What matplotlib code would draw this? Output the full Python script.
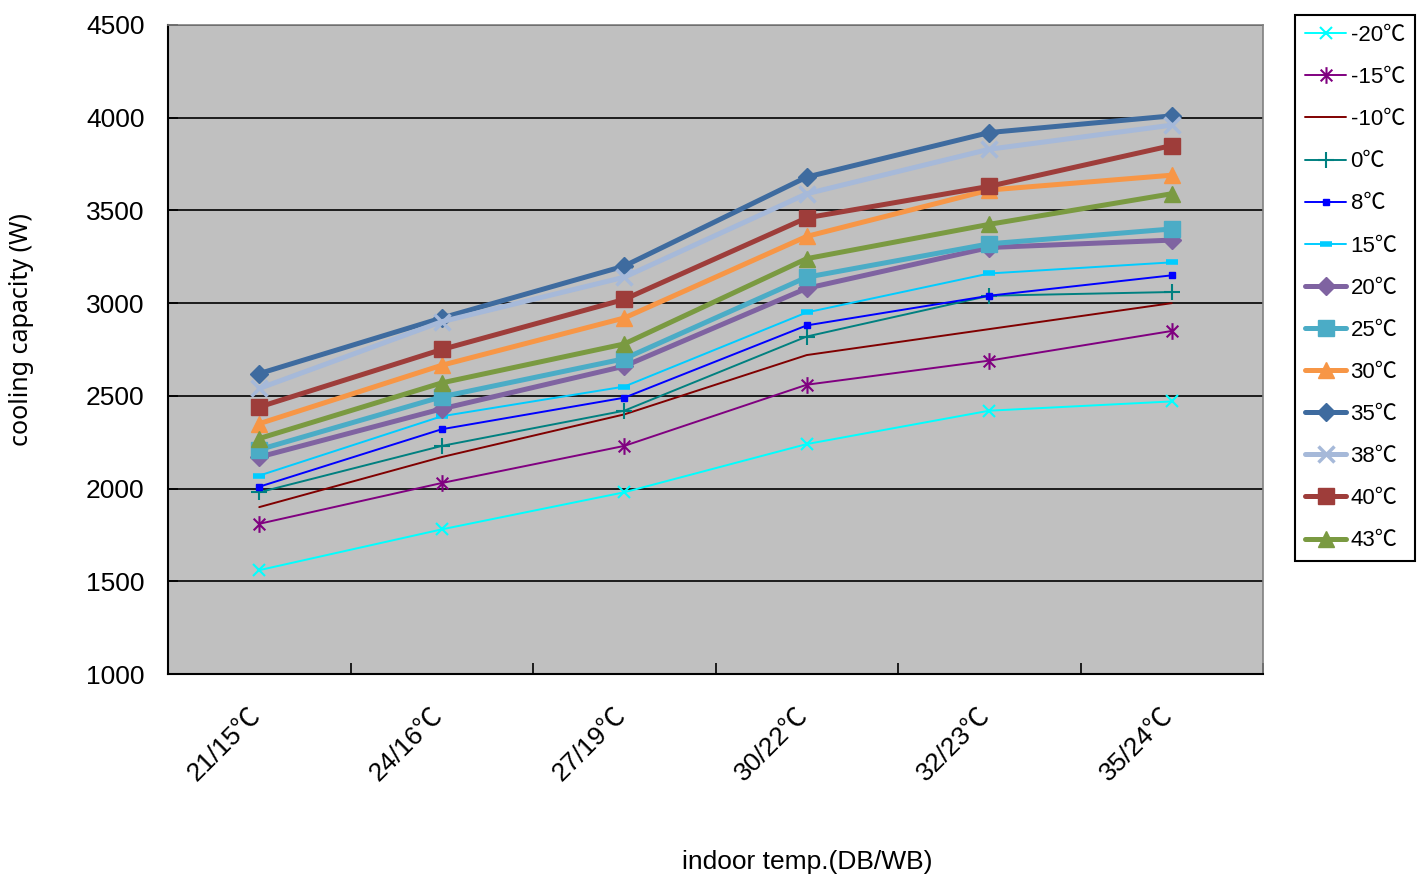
import matplotlib
matplotlib.use('Agg')
import matplotlib.pyplot as plt
import matplotlib.transforms as mtransforms
from matplotlib.path import Path
import numpy as np

# outdoor temperatures (legend) and indoor conditions (x axis)
categories = ['21/15℃', '24/16℃', '27/19℃', '30/22℃', '32/23℃', '35/24℃']
labels = ['-20℃', '-15℃', '-10℃', '0℃', '8℃', '15℃', '20℃', '25℃',
          '30℃', '35℃', '38℃', '40℃', '43℃']

cap_m20 = [1560, 1780, 1980, 2240, 2420, 2470]
cap_m15 = [1810, 2030, 2230, 2560, 2690, 2850]
cap_m10 = [1900, 2170, 2400, 2720, 2860, 3000]
cap_0 = [1980, 2230, 2420, 2820, 3040, 3060]
cap_8 = [2010, 2320, 2490, 2880, 3040, 3150]
cap_15 = [2070, 2390, 2550, 2950, 3160, 3220]
cap_20 = [2170, 2430, 2660, 3080, 3300, 3340]
cap_25 = [2210, 2495, 2700, 3140, 3320, 3400]
cap_30 = [2350, 2665, 2920, 3360, 3610, 3690]
cap_35 = [2620, 2920, 3200, 3680, 3920, 4010]
cap_38 = [2540, 2900, 3140, 3590, 3830, 3960]
cap_40 = [2440, 2750, 3020, 3460, 3630, 3850]
cap_43 = [2270, 2570, 2780, 3240, 3425, 3590]

series = [cap_m20, cap_m15, cap_m10, cap_0, cap_8, cap_15, cap_20, cap_25,
          cap_30, cap_35, cap_38, cap_40, cap_43]

# asterisk like marker (vertical bar + x)
star = Path([(0, -1), (0, 1), (-0.7, -0.7), (0.7, 0.7), (-0.7, 0.7), (0.7, -0.7)],
            [Path.MOVETO, Path.LINETO, Path.MOVETO, Path.LINETO, Path.MOVETO, Path.LINETO])

styles = [
    dict(color='#00FFFF', lw=1.4, marker='x', ms=9, mew=1.5),
    dict(color='#800080', lw=1.4, marker=star, ms=12, mew=1.5),
    dict(color='#800000', lw=1.4, marker=None),
    dict(color='#008080', lw=1.4, marker='+', ms=11, mew=1.5),
    dict(color='#0000FF', lw=1.4, marker='s', ms=4, mew=1),
    dict(color='#00CCFF', lw=1.4, marker='_', ms=9, mew=4),
    dict(color='#7F63A1', lw=3.6, marker='D', ms=9, mew=1),
    dict(color='#4BACC6', lw=3.6, marker='s', ms=11, mew=1),
    dict(color='#F79646', lw=3.6, marker='^', ms=12, mew=1),
    dict(color='#3E6B9F', lw=3.6, marker='D', ms=9, mew=1),
    dict(color='#A6B9D9', lw=3.6, marker='x', ms=11, mew=2.5),
    dict(color='#9E3D3A', lw=3.6, marker='s', ms=11, mew=1),
    dict(color='#7A9A41', lw=3.6, marker='^', ms=12, mew=1),
]

plt.rcParams['font.family'] = ['Liberation Sans', 'Noto Sans CJK SC', 'DejaVu Sans']

fig = plt.figure(figsize=(14.24, 8.8), dpi=100)
ax = fig.add_axes([168 / 1424, 1 - 674 / 880, (1263 - 168) / 1424, (674 - 25) / 880])
ax.set_facecolor('#C0C0C0')

x = np.arange(len(categories))
for vals, lab, st in zip(series, labels, styles):
    ax.plot(x, vals, label=lab, color=st['color'], linewidth=st['lw'],
            marker=st['marker'], markersize=st.get('ms', 0),
            markeredgewidth=st.get('mew', 1), markerfacecolor=st['color'],
            markeredgecolor=st['color'], solid_capstyle='round', clip_on=False)

ax.set_xlim(-0.5, len(categories) - 0.5)
ax.set_ylim(1000, 4500)
ax.set_yticks(np.arange(1000, 4501, 500))
ax.yaxis.grid(True, color='black', linewidth=1.2)
ax.set_axisbelow(True)

ax.set_xticks(x)
ax.set_xticklabels(categories, rotation=45, ha='right', va='top')
ax.set_xticks(np.arange(-0.5, len(categories)), minor=True)
ax.tick_params(axis='x', which='major', length=0, pad=21, labelsize=19)
ax.tick_params(axis='x', which='minor', direction='in', length=8, width=1.2)
ax.tick_params(axis='y', direction='in', length=7, width=1.2, labelsize=19, pad=17)
shift = mtransforms.ScaledTranslation(6 / 100, 0, fig.dpi_scale_trans)
for t in ax.get_xticklabels():
    t.set_transform(t.get_transform() + shift)

for s in ['left', 'bottom']:
    ax.spines[s].set_color('black')
    ax.spines[s].set_linewidth(1.5)
for s in ['top', 'right']:
    ax.spines[s].set_color('#808080')
    ax.spines[s].set_linewidth(1.2)

fig.text(807 / 1424, 1 - 862 / 880, 'indoor temp.(DB/WB)', fontsize=19,
         ha='center', va='center')
fig.text(22 / 1424, 1 - 330 / 880, 'cooling capacity (W)', fontsize=18,
         family=['Noto Sans', 'DejaVu Sans'], rotation=90, ha='center', va='center')

leg = fig.legend(loc='upper left', bbox_to_anchor=(1295 / 1424, 1 - 15 / 880),
                 fontsize=16, handlelength=1.85, labelspacing=0.95, handletextpad=0.2,
                 borderpad=0.45, borderaxespad=0, fancybox=False, framealpha=1,
                 edgecolor='black')
leg.get_frame().set_linewidth(1.5)

fig.savefig('out.png', dpi=100)
